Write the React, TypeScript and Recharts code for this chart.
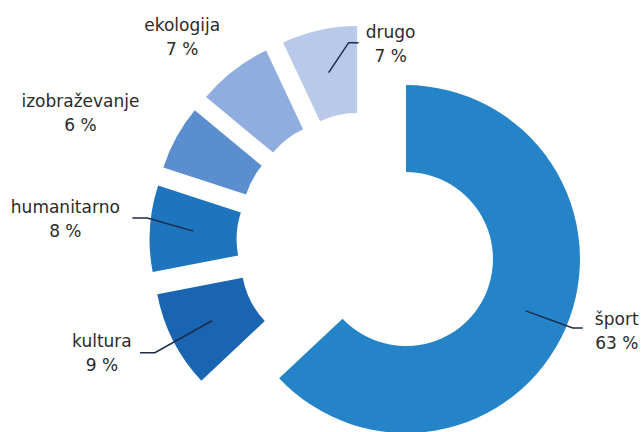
import React from 'react';
import { PieChart, Pie, Cell } from 'recharts';

// categories and shares (%)
const categories = ['šport', 'kultura', 'humanitarno', 'izobraževanje', 'ekologija', 'drugo'];
const shares = [63, 9, 8, 6, 7, 7];
const colors = ['#2584c7', '#1965b1', '#1f74be', '#5b8ecf', '#8fadde', '#b9c9ea'];

const data = categories.map((name, i) => ({ name, value: shares[i] }));

const WIDTH = 643;
const HEIGHT = 432;
const CX = 366.5;
const CY = 242;
const OUTER = 174;
const INNER = 87;
const EXPLODE = 43;
const START = 90;

// label placement relative to the leader-line start point inside each slice
const labelLayout = [
  { line: [[47, 17], [57, 17]], text: [91, 14] },
  { line: [[-57, 32], [-72, 32]], text: [-110, 26] },
  { line: [[-46, -13], [-61, -13]], text: [-128, -18] },
  { line: null, text: [-134, -51] },
  { line: null, text: [-78, -74] },
  { line: [[20, -30], [30, -30]], text: [62, -35] },
];

const RAD = Math.PI / 180;
const total = shares.reduce((a, b) => a + b, 0);

const midAngles = shares.map((v, i) => {
  const before = shares.slice(0, i).reduce((a, b) => a + b, 0);
  return START - (360 * (before + v / 2)) / total;
});

const makeLabel = (slice: number) => (props: any) => {
  const { cx, cy, midAngle, innerRadius, outerRadius, index } = props;
  if (index !== slice) return null;
  const r = (innerRadius + outerRadius) / 2;
  const sx = cx + r * Math.cos(-midAngle * RAD);
  const sy = cy + r * Math.sin(-midAngle * RAD);
  const layout = labelLayout[index];
  const tx = sx + layout.text[0];
  const ty = sy + layout.text[1];
  const points = layout.line
    ? [[sx, sy], ...layout.line.map(([dx, dy]) => [sx + dx, sy + dy])]
    : null;
  return (
    <g>
      {points && (
        <polyline
          points={points.map((p) => p.join(',')).join(' ')}
          fill="none"
          stroke="#1b2b4b"
          strokeWidth={1.5}
        />
      )}
      <text
        x={tx}
        y={ty}
        textAnchor="middle"
        fill="#2b2b2b"
        fontSize={17}
        fontFamily="'DejaVu Sans', Verdana, sans-serif"
      >
        <tspan x={tx}>{data[index].name}</tspan>
        <tspan x={tx} dy={24}>{`${data[index].value} %`}</tspan>
      </text>
    </g>
  );
};

export default function App() {
  return (
    <div style={{ position: 'absolute', left: 0, top: 0, background: '#fff' }}>
      <PieChart width={WIDTH} height={HEIGHT} margin={{ top: 0, right: 0, bottom: 0, left: 0 }}>
        {data.map((_, slice) => (
          <Pie
            key={slice}
            data={data}
            dataKey="value"
            nameKey="name"
            cx={CX + EXPLODE * Math.cos(midAngles[slice] * RAD)}
            cy={CY - EXPLODE * Math.sin(midAngles[slice] * RAD)}
            innerRadius={INNER}
            outerRadius={OUTER}
            startAngle={START}
            endAngle={START - 360}
            stroke="none"
            labelLine={false}
            label={makeLabel(slice)}
            isAnimationActive={false}
          >
            {data.map((entry, i) => (
              <Cell key={entry.name} fill={i === slice ? colors[i] : 'none'} />
            ))}
          </Pie>
        ))}
      </PieChart>
    </div>
  );
}
